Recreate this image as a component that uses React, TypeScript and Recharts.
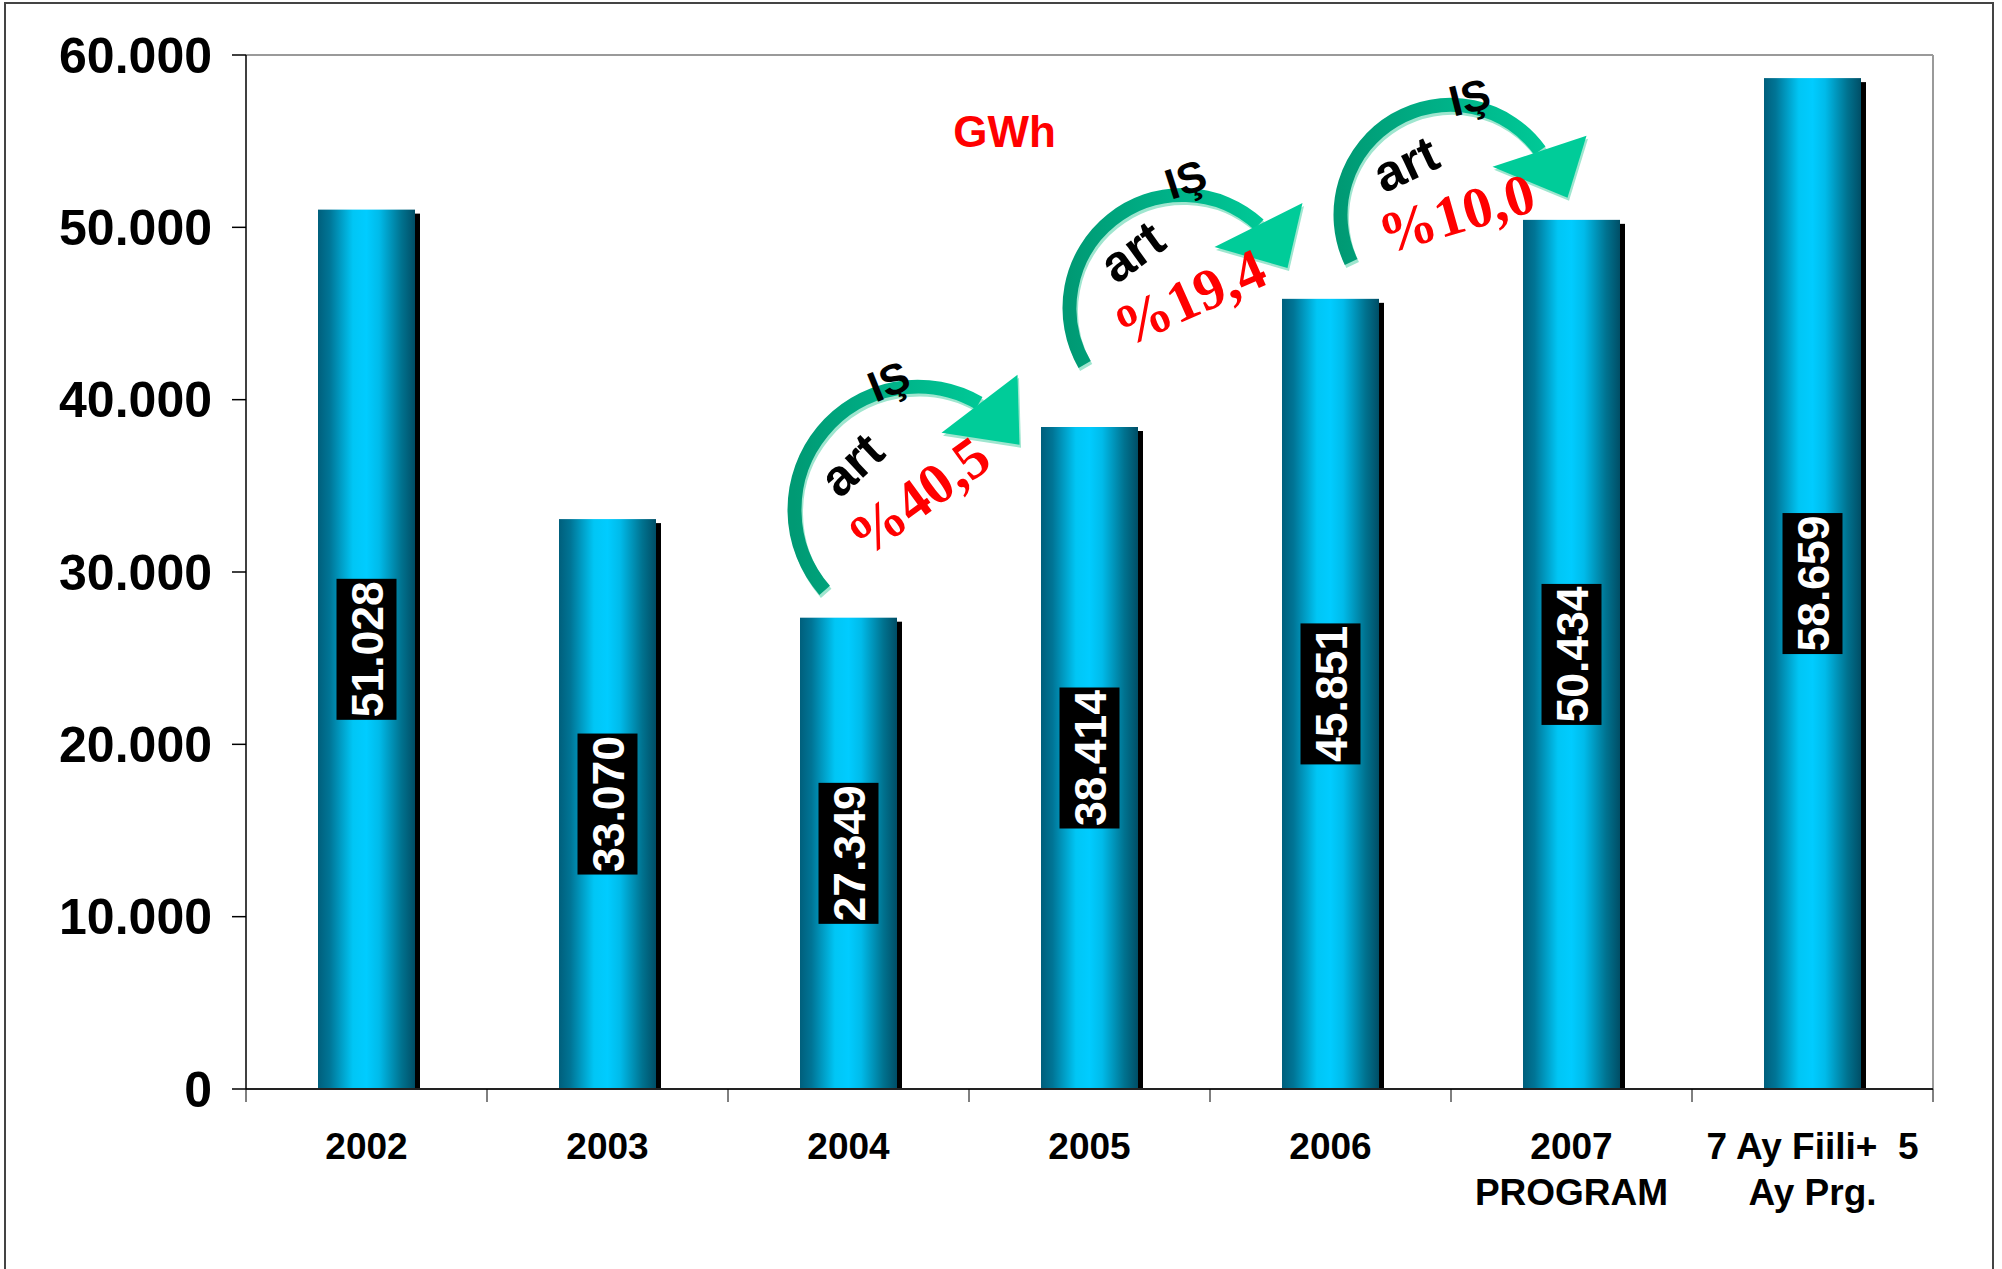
import React from 'react';
import { BarChart, Bar, XAxis, YAxis, LabelList, ReferenceDot, CartesianGrid } from 'recharts';

// ---- data ----
const categories = ['2002', '2003', '2004', '2005', '2006', '2007 PROGRAM', '7 Ay Fiili+  5 Ay Prg.'];
const categoryLines = [['2002'], ['2003'], ['2004'], ['2005'], ['2006'], ['2007', 'PROGRAM'], ['7 Ay Fiili+  5', 'Ay Prg.']];
const productionGWh = [51028, 33070, 27349, 38414, 45851, 50434, 58659];
const yTicks = [0, 10000, 20000, 30000, 40000, 50000, 60000];
const unitLabel = 'GWh';
const growthFromIndex = [2, 3, 4];
const growthPercent = ['%40,5', '%19,4', '%10,0'];
const growthWordTop = 'IŞ';
const growthWordBottom = 'art';

// ---- annotation layout (pixel offsets from the anchoring bar top) ----
const arrowLayouts = [
  { c: [69, -108], r: 123, a0: 139, a1: -60, head: [[93, -185], [169, -243], [171, -173]],
    is: [40, -237, -22], art: [6, -150, -43], pct: [70, -121, -36] },
  { c: [93, -119], r: 113, a0: 150, a1: -47.5, head: [[125, -180], [213, -224], [198, -159]],
    is: [96, -248, -18], art: [45, -172, -36], pct: [100, -129, -24] },
  { c: [120, -84], r: 110, a0: 154.6, a1: -35.7, head: [[162, -132], [256, -163], [237, -101]],
    is: [139, -202, -14], art: [77, -131, -25], pct: [126, -85, -16] },
];

const SANS = '"Liberation Sans", Arial, Helvetica, sans-serif';
const SERIF = '"Liberation Serif", "Times New Roman", serif';

const data = categories.map((name, i) => ({ name, value: productionGWh[i] }));

function fmt(v: number): string {
  if (v === 0) return '0';
  const th = Math.floor(v / 1000);
  const r = v % 1000;
  return th + '.' + String(r).padStart(3, '0');
}

const BarShape = (props: any) => {
  const { x, y, width, height, index } = props;
  const id = `barGrad${index}`;
  return (
    <g>
      <defs>
        <linearGradient id={id} x1="0" y1="0" x2="1" y2="0">
          <stop offset="0" stopColor="#005f7c" />
          <stop offset="0.12" stopColor="#007596" />
          <stop offset="0.36" stopColor="#00c6f5" />
          <stop offset="0.5" stopColor="#00ccff" />
          <stop offset="0.63" stopColor="#00bbea" />
          <stop offset="0.86" stopColor="#00728f" />
          <stop offset="1" stopColor="#004e66" />
        </linearGradient>
      </defs>
      <rect x={x + 5} y={y + 4} width={width} height={Math.max(0, height - 4)} fill="#000" />
      <rect x={x} y={y} width={width} height={height} fill={`url(#${id})`} />
    </g>
  );
};

const ValueLabel = (props: any) => {
  const { x, y, width, height, value } = props;
  const cx = x + width / 2;
  const cy = y + height / 2;
  return (
    <g>
      <rect x={cx - 30} y={cy - 70.5} width={60} height={141} fill="#000" />
      <text
        x={cx}
        y={cy}
        dy="0.36em"
        transform={`rotate(-90 ${cx} ${cy})`}
        textAnchor="middle"
        fill="#fff"
        fontSize={44.5}
        fontWeight="bold"
        fontFamily={SANS}
      >
        {fmt(value)}
      </text>
    </g>
  );
};

const XTick = (props: any) => {
  const { x, y, index, payload, width, visibleTicksCount } = props;
  const lines = categoryLines[index] || [String(payload.value)];
  const half =
    payload && payload.offset ? payload.offset : width && visibleTicksCount ? width / visibleTicksCount / 2 : 0;
  const isLast = index === (visibleTicksCount || categories.length) - 1;
  return (
    <g>
      <line x1={x - half} x2={x - half} y1={y} y2={y + 13} stroke="#000" strokeWidth={1} />
      {isLast && <line x1={x + half} x2={x + half} y1={y} y2={y + 13} stroke="#000" strokeWidth={1} />}
      {lines.map((l, i) => (
        <text
          key={i}
          x={x}
          y={y + 70 + i * 46}
          textAnchor="middle"
          fontSize={37}
          fontWeight="bold"
          fontFamily={SANS}
          fill="#000"
          style={{ whiteSpace: 'pre' }}
        >
          {l}
        </text>
      ))}
    </g>
  );
};

const rad = (d: number) => (d * Math.PI) / 180;

const makeArrow = (k: number) => (p: any) => {
  const { cx, cy } = p;
  const L = arrowLayouts[k];
  const ox = cx + L.c[0];
  const oy = cy + L.c[1];
  const x0 = ox + L.r * Math.cos(rad(L.a0));
  const y0 = oy + L.r * Math.sin(rad(L.a0));
  const x1 = ox + L.r * Math.cos(rad(L.a1));
  const y1 = oy + L.r * Math.sin(rad(L.a1));
  const d = `M ${x0} ${y0} A ${L.r} ${L.r} 0 0 1 ${x1} ${y1}`;
  const pts = L.head.map(([hx, hy]) => `${cx + hx},${cy + hy}`).join(' ');
  const gid = `arrowGrad${k}`;
  const [ix, iy, ia] = L.is;
  const [ax, ay, aa] = L.art;
  const [px, py, pa] = L.pct;
  return (
    <g>
      <defs>
        <linearGradient id={gid} x1="0" y1="0" x2="1" y2="0">
          <stop offset="0" stopColor="#009a74" />
          <stop offset="0.55" stopColor="#00b389" />
          <stop offset="1" stopColor="#00c896" />
        </linearGradient>
      </defs>
      <g transform="translate(1.5 3)">
        <path d={d} fill="none" stroke="#9fe6cf" strokeWidth={14} />
        <polygon points={pts} fill="#9fe6cf" />
      </g>
      <path d={d} fill="none" stroke={`url(#${gid})`} strokeWidth={14} />
      <polygon points={pts} fill="#00cc99" />
      <text
        x={cx + ix}
        y={cy + iy}
        dy="0.36em"
        transform={`rotate(${ia} ${cx + ix} ${cy + iy})`}
        textAnchor="middle"
        fontSize={43}
        fontWeight="bold"
        fontFamily={SANS}
        fill="#000"
      >
        {growthWordTop}
      </text>
      <text
        x={cx + ax}
        y={cy + ay}
        dy="0.26em"
        transform={`rotate(${aa} ${cx + ax} ${cy + ay})`}
        textAnchor="middle"
        fontSize={51}
        fontWeight="bold"
        fontFamily={SANS}
        fill="#000"
      >
        {growthWordBottom}
      </text>
      <text
        x={cx + px}
        y={cy + py}
        dy="0.33em"
        transform={`rotate(${pa} ${cx + px} ${cy + py})`}
        textAnchor="middle"
        fontSize={58}
        fontWeight="bold"
        fontFamily={SERIF}
        fill="#ff0000"
      >
        {growthPercent[k]}
      </text>
    </g>
  );
};

const UnitShape = (p: any) => (
  <text
    x={p.cx + 156}
    y={p.cy + 76}
    dy="0.36em"
    textAnchor="middle"
    fontSize={44}
    fontWeight="bold"
    fontFamily={SANS}
    fill="#ff0000"
  >
    {unitLabel}
  </text>
);

export default function App() {
  return (
    <div style={{ position: 'absolute', left: 0, top: 0, width: 2002, height: 1269, overflow: 'hidden', background: '#fff' }}>
      <div
        style={{
          position: 'absolute',
          left: 4,
          top: 2,
          width: 1990,
          height: 1320,
          border: '2px solid #444',
          boxSizing: 'border-box',
        }}
      />
      <div style={{ position: 'absolute', left: 0, top: 0 }}>
        <BarChart width={2002} height={1269} data={data} margin={{ top: 55, right: 69, bottom: 30, left: 20 }}>
          <CartesianGrid
            stroke="#9a9a9a"
            strokeWidth={2}
            horizontalCoordinatesGenerator={(g: any) => [g.offset.top]}
            verticalCoordinatesGenerator={(g: any) => [g.offset.left + g.offset.width]}
          />
          <XAxis
            dataKey="name"
            interval={0}
            height={150}
            axisLine={{ stroke: '#222', strokeWidth: 2 }}
            tickLine={false}
            tickSize={0}
            tickMargin={0}
            tick={<XTick />}
          />
          <YAxis
            domain={[0, 60000]}
            ticks={yTicks}
            interval={0}
            width={226}
            axisLine={{ stroke: '#000', strokeWidth: 1.5 }}
            tickLine={{ stroke: '#000', strokeWidth: 1.5 }}
            tickSize={14}
            tickMargin={20}
            tickFormatter={fmt}
            tick={{ fontSize: 50, fontWeight: 'bold', fill: '#000', fontFamily: SANS }}
          />
          <Bar dataKey="value" barSize={97} shape={<BarShape />} isAnimationActive={false}>
            <LabelList dataKey="value" content={<ValueLabel />} />
          </Bar>
          <ReferenceDot x={categories[2]} y={60000} r={0} shape={UnitShape} />
          {growthFromIndex.map((ci, k) => (
            <ReferenceDot
              key={k}
              x={categories[ci]}
              y={productionGWh[ci]}
              r={0}
              ifOverflow="visible"
              shape={makeArrow(k)}
            />
          ))}
        </BarChart>
      </div>
    </div>
  );
}
